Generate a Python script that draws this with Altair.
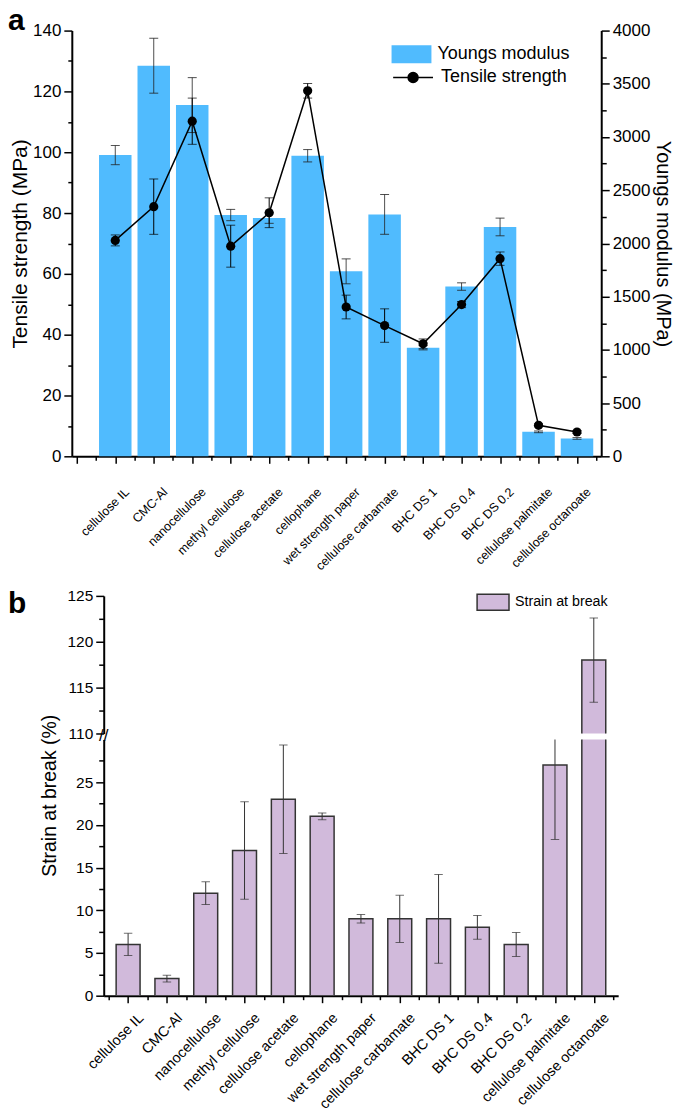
import json
import altair as alt
import pandas as pd

categories = ["cellulose IL", "CMC-Al", "nanocellulose", "methyl cellulose",
              "cellulose acetate", "cellophane", "wet strength paper",
              "cellulose carbamate", "BHC DS 1", "BHC DS 0.4", "BHC DS 0.2",
              "cellulose palmitate", "cellulose octanoate"]
positions = list(range(1, 14))
youngs_modulus = [2830, 3670, 3300, 2267, 2239, 2824, 1738, 2273, 1020, 1595, 2155, 230, 168]
youngs_err = [90, 258, 258, 53, 50, 58, 117, 187, 20, 35, 83, 8, 8]
tensile_strength = [71.0, 82.1, 110.2, 69.1, 80.1, 120.2, 49.1, 43.0, 37.0, 49.9, 65.0, 10.2, 8.0]
tensile_err = [1.8, 9.1, 7.6, 6.9, 4.9, 2.4, 3.9, 5.5, 1.6, 1.0, 2.2, 0.5, 0.5]
strain = [6, 2, 12, 17, 23, 21, 9, 9, 9, 8, 6, 27, 118]
strain_err = [1.3, 0.4, 1.33, 5.7, 6.35, 0.4, 0.5, 2.76, 5.2, 1.4, 1.4, 8.7, 4.6]
panel_labels = ["a", "b"]

BLUE = "#50BBFE"
PURPLE = "#D1BADB"
EDGE = "#333333"
FONT = "Liberation Sans"
PAD = {"left": 0, "top": -4, "right": 4, "bottom": 0}

df = pd.DataFrame({
    "pos": positions,
    "cat": categories,
    "ym": youngs_modulus,
    "ym_lo": [v - e for v, e in zip(youngs_modulus, youngs_err)],
    "ym_hi": [v + e for v, e in zip(youngs_modulus, youngs_err)],
    "ts": tensile_strength,
    "ts_lo": [v - e for v, e in zip(tensile_strength, tensile_err)],
    "ts_hi": [v + e for v, e in zip(tensile_strength, tensile_err)],
    "st": strain,
    "st_lo": [v - e for v, e in zip(strain, strain_err)],
    "st_hi": [v + e for v, e in zip(strain, strain_err)],
    "base": 0,
    "ym_name": "Youngs modulus",
    "ts_name": "Tensile strength",
    "st_name": "Strain at break",
})
lab_a = pd.DataFrame({"t": [panel_labels[0]]})
lab_b = pd.DataFrame({"t": [panel_labels[1]]})
brk = pd.DataFrame({"t": ["//"]})

lab_expr = ("datum.value % 1 == 0 && datum.value >= 1 && datum.value <= 13 ? "
            + json.dumps(categories) + "[datum.value - 1] : ''")


def cond(test, major, minor):
    return {"condition": {"test": test, "value": major}, "value": minor}


# ---------------- panel a ----------------
W1, H1 = 531, 427
x_top = alt.X("pos:Q", scale=alt.Scale(domain=[0, 13.5], nice=False, zero=False),
              axis=alt.Axis(values=[i / 2 for i in range(0, 28)], labelExpr=lab_expr,
                            labelAngle=-45, labelAlign="right", labelBaseline="top",
                            labelFontSize=12.5, labelOverlap=False, labelFlush=False,
                            tickSize=cond("datum.value % 1 == 0", 7, 4),
                            tickColor="black", tickWidth=1.5, domainColor="black",
                            domainWidth=2, grid=False, title=None, labelColor="black",
                            labelPadding=22, labelOffset=7))

ax_ts = alt.Axis(orient="left", values=list(range(0, 141, 10)), format="d",
                 labelExpr="datum.value % 20 == 0 ? datum.label : ''",
                 tickSize=cond("datum.value % 20 == 0", 8, 4), tickColor="black",
                 tickWidth=1.5, domainColor="black", domainWidth=2, grid=False,
                 labelFontSize=17, labelColor="black", labelPadding=3,
                 title="Tensile strength (MPa)", titleFontSize=21,
                 titleFontWeight="normal", titleColor="black", titlePadding=2)
ax_ym = alt.Axis(orient="right", values=list(range(0, 4001, 250)), format="d",
                 labelExpr="datum.value % 500 == 0 ? datum.label : ''",
                 tickSize=cond("datum.value % 500 == 0", 8, 5), tickColor="black",
                 tickWidth=1.5, domainColor="black", domainWidth=2, grid=False,
                 labelFontSize=17, labelColor="black", labelPadding=3,
                 title="Youngs modulus (MPa)", titleFontSize=20,
                 titleFontWeight="normal", titleColor="black", titlePadding=3)

sc_ts = alt.Scale(domain=[0, 140], nice=False)
sc_ym = alt.Scale(domain=[0, 4000], nice=False)

base = alt.Chart(df)

bars = base.mark_bar(width=32.6).encode(
    x=x_top,
    y=alt.Y("ym:Q", scale=sc_ym, axis=ax_ym),
    y2=alt.Y2("base:Q"),
    fill=alt.Fill("ym_name:N", scale=alt.Scale(range=[BLUE]),
                  legend=alt.Legend(title=None, orient="none", legendX=320.7, legendY=3.7,
                                    symbolType="M-1,-0.45H1V0.45H-1Z", symbolSize=1600,
                                    symbolStrokeWidth=0, labelFontSize=18, labelOffset=6,
                                    labelColor="black", padding=0)),
)
ym_rule = base.mark_rule(color="#222222", strokeWidth=1, opacity=0.8).encode(
    x=x_top, y=alt.Y("ym_lo:Q", scale=sc_ym, axis=ax_ym), y2="ym_hi:Q")
ym_cap_lo = base.mark_tick(orient="horizontal", size=9, thickness=1, color="#222222", opacity=0.8).encode(
    x=x_top, y=alt.Y("ym_lo:Q", scale=sc_ym, axis=ax_ym))
ym_cap_hi = base.mark_tick(orient="horizontal", size=9, thickness=1, color="#222222", opacity=0.8).encode(
    x=x_top, y=alt.Y("ym_hi:Q", scale=sc_ym, axis=ax_ym))
right_group = alt.layer(bars, ym_rule, ym_cap_lo, ym_cap_hi)

line = base.mark_line(strokeWidth=1.5).encode(
    x=x_top, y=alt.Y("ts:Q", scale=sc_ts, axis=ax_ts),
    stroke=alt.Stroke("ts_name:N", scale=alt.Scale(range=["black"]),
                      legend=alt.Legend(title=None, orient="none", legendX=321.3, legendY=26,
                                        symbolType="M-1,0H1M0.25,0A0.25,0.25,0,1,1,-0.25,0A0.25,0.25,0,1,1,0.25,0Z",
                                        symbolSize=1600, symbolStrokeWidth=1.5,
                                        symbolFillColor="black", labelFontSize=18,
                                        labelOffset=7, labelColor="black", padding=0)))
ts_rule = base.mark_rule(color="black", strokeWidth=1).encode(
    x=x_top, y=alt.Y("ts_lo:Q", scale=sc_ts, axis=ax_ts), y2="ts_hi:Q")
ts_cap_lo = base.mark_tick(orient="horizontal", size=9, thickness=1, color="black").encode(
    x=x_top, y=alt.Y("ts_lo:Q", scale=sc_ts, axis=ax_ts))
ts_cap_hi = base.mark_tick(orient="horizontal", size=9, thickness=1, color="black").encode(
    x=x_top, y=alt.Y("ts_hi:Q", scale=sc_ts, axis=ax_ts))
pts = base.mark_circle(size=85, color="black", opacity=1).encode(
    x=x_top, y=alt.Y("ts:Q", scale=sc_ts, axis=ax_ts))
left_group = alt.layer(line, ts_rule, ts_cap_lo, ts_cap_hi, pts)

text_a = alt.Chart(lab_a).mark_text(fontSize=30, fontWeight="bold", align="left",
                                    baseline="alphabetic", color="black").encode(
    text="t:N", x=alt.value(-64), y=alt.value(-0.5))

panel_a = alt.layer(right_group, left_group, text_a).resolve_scale(y="independent").properties(
    width=W1, height=H1)

# ---------------- panel b ----------------
SHIFT = 32
W2 = 516 + SHIFT
H_UP, H_LOW = 138, 257
x_bot_scale = alt.Scale(domain=[0.5, 13.5], range=[SHIFT, W2], nice=False, zero=False)
x_bot = alt.X("pos:Q", scale=x_bot_scale,
              axis=alt.Axis(values=[i / 2 for i in range(1, 28)], labelExpr=lab_expr,
                            labelAngle=-45, labelAlign="right", labelBaseline="top",
                            labelFontSize=14.5, labelOverlap=False, labelFlush=False,
                            tickSize=cond("datum.value % 1 == 0", 7, 4),
                            tickColor="black", tickWidth=1.5, domainColor="black",
                            domainWidth=2, grid=False, title=None, labelColor="black",
                            labelPadding=8, labelOffset=8))
x_bot_noaxis = alt.X("pos:Q", scale=x_bot_scale, axis=None)

ax_up = alt.Axis(values=[110 + 2.5 * i for i in range(7)], offset=-SHIFT,
                 labelExpr="datum.value % 5 == 0 ? datum.label : ''",
                 tickSize=cond("datum.value % 5 == 0", 8, 5), tickColor="black",
                 tickWidth=1.5, domainColor="black", domainWidth=2, grid=False,
                 labelFontSize=15.5, labelColor="black", labelPadding=3, title=None)
ax_low = alt.Axis(values=[2.5 * i for i in range(12)], offset=-SHIFT,
                  labelExpr="datum.value % 5 == 0 ? datum.label : ''",
                  tickSize=cond("datum.value % 5 == 0", 8, 5), tickColor="black",
                  tickWidth=1.5, domainColor="black", domainWidth=2, grid=False,
                  labelFontSize=15.5, labelColor="black", labelPadding=3,
                  title="Strain at break (%)", titleFontSize=19.5, titleFontWeight="normal",
                  titleColor="black", titlePadding=16, titleY=56)
sc_up = alt.Scale(domain=[110, 125], nice=False, zero=False)
sc_low = alt.Scale(domain=[0, 30], nice=False)

up_bars = base.mark_bar(width=24, stroke=EDGE, strokeWidth=1.5, clip=True).encode(
    x=x_bot_noaxis, y=alt.Y("st:Q", scale=sc_up, axis=ax_up), y2="base:Q",
    fill=alt.Fill("st_name:N", scale=alt.Scale(range=[PURPLE]),
                  legend=alt.Legend(title=None, orient="none", legendX=405.5, legendY=-10.7,
                                    symbolType="M-1,-0.5H1V0.5H-1Z", symbolSize=1024,
                                    symbolStrokeColor=EDGE, symbolStrokeWidth=1.5,
                                    labelFontSize=14.3, labelOffset=5, labelColor="black",
                                    padding=0)))
up_rule = base.mark_rule(color=EDGE, strokeWidth=1, clip=True).encode(
    x=x_bot_noaxis, y=alt.Y("st_lo:Q", scale=sc_up, axis=ax_up), y2="st_hi:Q")
up_cap_lo = base.mark_tick(orient="horizontal", size=8.5, thickness=1, color=EDGE, clip=True).encode(
    x=x_bot_noaxis, y=alt.Y("st_lo:Q", scale=sc_up, axis=ax_up))
up_cap_hi = base.mark_tick(orient="horizontal", size=8.5, thickness=1, color=EDGE, clip=True).encode(
    x=x_bot_noaxis, y=alt.Y("st_hi:Q", scale=sc_up, axis=ax_up))
text_b = alt.Chart(lab_b).mark_text(fontSize=30, fontWeight="bold", align="left",
                                    baseline="alphabetic", color="black").encode(
    text="t:N", x=alt.value(-64), y=alt.value(16.7))
upper = alt.layer(up_bars, up_rule, up_cap_lo, up_cap_hi, text_b).properties(
    width=W2, height=H_UP)

low_bars = base.mark_bar(width=24, stroke=EDGE, strokeWidth=1.5, fill=PURPLE, clip=True).encode(
    x=x_bot, y=alt.Y("st:Q", scale=sc_low, axis=ax_low), y2="base:Q")
low_rule = base.mark_rule(color=EDGE, strokeWidth=1, clip=True).encode(
    x=x_bot, y=alt.Y("st_lo:Q", scale=sc_low, axis=ax_low), y2="st_hi:Q")
low_cap_lo = base.mark_tick(orient="horizontal", size=8.5, thickness=1, color=EDGE, clip=True).encode(
    x=x_bot, y=alt.Y("st_lo:Q", scale=sc_low, axis=ax_low))
low_cap_hi = base.mark_tick(orient="horizontal", size=8.5, thickness=1, color=EDGE, clip=True).encode(
    x=x_bot, y=alt.Y("st_hi:Q", scale=sc_low, axis=ax_low))
brk_mark = alt.Chart(brk).mark_text(fontSize=17, align="center", baseline="middle",
                                    color="black").encode(
    text="t:N", x=alt.value(SHIFT), y=alt.value(-3))
lower = alt.layer(low_bars, low_rule, low_cap_lo, low_cap_hi, brk_mark).properties(
    width=W2, height=H_LOW)

panel_b = alt.concat(upper, lower, columns=1, align="each", spacing=6,
                     bounds="flush").resolve_scale(
    fill="independent").resolve_legend(fill="independent")

chart = alt.concat(panel_a, panel_b, columns=1, align="each", spacing=12).resolve_scale(
    fill="independent", stroke="independent").resolve_legend(
    fill="independent", stroke="independent").properties(padding=PAD).configure(
    font=FONT, padding=PAD).configure_view(stroke=None)

chart.save("out.html", embed_options={"renderer": "svg", "actions": False})
